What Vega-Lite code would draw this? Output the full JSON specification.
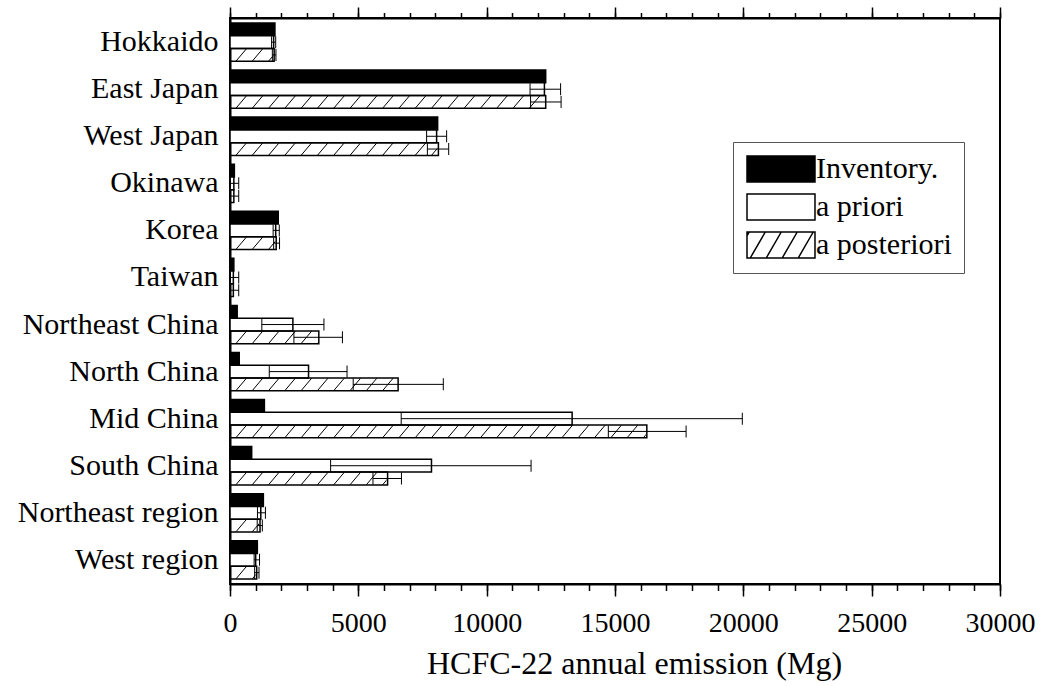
{
  "$schema": "https://vega.github.io/schema/vega-lite/v6.json",
  "width": 770,
  "height": 566,
  "autosize": "none",
  "padding": {"left": 230, "top": 18, "right": 40, "bottom": 102},
  "background": "white",
  "config": {
    "font": "Liberation Serif",
    "view": {"stroke": "black", "strokeWidth": 2},
    "axis": {"labelColor": "black", "titleColor": "black", "domainColor": "black", "tickColor": "black", "grid": false}
  },
  "data": {
    "values": [
      {"region": "Hokkaido", "series": "Inventory.", "value": 1750, "lo": null, "hi": null},
      {"region": "Hokkaido", "series": "a priori", "value": 1700, "lo": 1620, "hi": 1780},
      {"region": "Hokkaido", "series": "a posteriori", "value": 1720, "lo": 1650, "hi": 1790},
      {"region": "East Japan", "series": "Inventory.", "value": 12300, "lo": null, "hi": null},
      {"region": "East Japan", "series": "a priori", "value": 12250, "lo": 11690, "hi": 12880},
      {"region": "East Japan", "series": "a posteriori", "value": 12300, "lo": 11710, "hi": 12900},
      {"region": "West Japan", "series": "Inventory.", "value": 8090, "lo": null, "hi": null},
      {"region": "West Japan", "series": "a priori", "value": 8050, "lo": 7660, "hi": 8440},
      {"region": "West Japan", "series": "a posteriori", "value": 8120, "lo": 7690, "hi": 8520},
      {"region": "Okinawa", "series": "Inventory.", "value": 170, "lo": null, "hi": null},
      {"region": "Okinawa", "series": "a priori", "value": 150, "lo": 20, "hi": 340},
      {"region": "Okinawa", "series": "a posteriori", "value": 150, "lo": 20, "hi": 340},
      {"region": "Korea", "series": "Inventory.", "value": 1880, "lo": null, "hi": null},
      {"region": "Korea", "series": "a priori", "value": 1780, "lo": 1680, "hi": 1920},
      {"region": "Korea", "series": "a posteriori", "value": 1800, "lo": 1700, "hi": 1930},
      {"region": "Taiwan", "series": "Inventory.", "value": 150, "lo": null, "hi": null},
      {"region": "Taiwan", "series": "a priori", "value": 130, "lo": 20, "hi": 340},
      {"region": "Taiwan", "series": "a posteriori", "value": 130, "lo": 20, "hi": 340},
      {"region": "Northeast China", "series": "Inventory.", "value": 280, "lo": null, "hi": null},
      {"region": "Northeast China", "series": "a priori", "value": 2450, "lo": 1240, "hi": 3660},
      {"region": "Northeast China", "series": "a posteriori", "value": 3460, "lo": 2490, "hi": 4380},
      {"region": "North China", "series": "Inventory.", "value": 360, "lo": null, "hi": null},
      {"region": "North China", "series": "a priori", "value": 3060, "lo": 1530, "hi": 4560},
      {"region": "North China", "series": "a posteriori", "value": 6550, "lo": 4800, "hi": 8310},
      {"region": "Mid China", "series": "Inventory.", "value": 1340, "lo": null, "hi": null},
      {"region": "Mid China", "series": "a priori", "value": 13330, "lo": 6670, "hi": 19960},
      {"region": "Mid China", "series": "a posteriori", "value": 16240, "lo": 14740, "hi": 17770},
      {"region": "South China", "series": "Inventory.", "value": 845, "lo": null, "hi": null},
      {"region": "South China", "series": "a priori", "value": 7850, "lo": 3920, "hi": 11730},
      {"region": "South China", "series": "a posteriori", "value": 6140, "lo": 5570, "hi": 6680},
      {"region": "Northeast region", "series": "Inventory.", "value": 1300, "lo": null, "hi": null},
      {"region": "Northeast region", "series": "a priori", "value": 1200, "lo": 1070, "hi": 1380},
      {"region": "Northeast region", "series": "a posteriori", "value": 1170, "lo": 1060, "hi": 1260},
      {"region": "West region", "series": "Inventory.", "value": 1065, "lo": null, "hi": null},
      {"region": "West region", "series": "a priori", "value": 1000, "lo": 940, "hi": 1150},
      {"region": "West region", "series": "a posteriori", "value": 1040, "lo": 960, "hi": 1130}
    ]
  },
  "resolve": {"axis": {"x": "independent", "y": "independent"}},
  "layer": [
    {
      "transform": [{"filter": "datum.series === 'a posteriori'"}],
      "mark": {"type": "point", "shape": "M6,6.2L16.5,-6.2M22.3,6.2L32.8,-6.2M38.6,6.2L49.1,-6.2M54.9,6.2L65.4,-6.2M71.2,6.2L81.7,-6.2M87.5,6.2L98,-6.2M103.8,6.2L114.3,-6.2M120.1,6.2L130.6,-6.2M136.4,6.2L146.9,-6.2M152.7,6.2L163.2,-6.2M169,6.2L179.5,-6.2M185.3,6.2L195.8,-6.2M201.6,6.2L212.1,-6.2M217.9,6.2L228.4,-6.2M234.2,6.2L244.7,-6.2M250.5,6.2L261,-6.2M266.8,6.2L277.3,-6.2M283.1,6.2L293.6,-6.2M299.4,6.2L309.9,-6.2M315.7,6.2L326.2,-6.2M332,6.2L342.5,-6.2M348.3,6.2L358.8,-6.2M364.6,6.2L375.1,-6.2M380.9,6.2L391.4,-6.2M397.2,6.2L407.7,-6.2M413.5,6.2L424,-6.2M429.8,6.2L440.3,-6.2", "size": 4, "filled": false, "stroke": "black", "strokeWidth": 1, "opacity": 1},
      "encoding": {
        "x": {"datum": 0, "type": "quantitative", "scale": {"domain": [0, 30000], "nice": false, "zero": true},
          "axis": {"orient": "bottom", "values": [0, 5000, 10000, 15000, 20000, 25000, 30000], "format": "d", "tickSize": 12, "tickWidth": 1.5, "domainWidth": 2, "labelFontSize": 28, "labelBaseline": "alphabetic", "labelPadding": 35, "labelFlush": false, "labelOverlap": false, "title": "HCFC-22 annual emission (Mg)", "titleFontSize": 32, "titleFontWeight": "normal", "titleBaseline": "alphabetic", "titleAlign": "center", "titleX": 404, "titleY": 89}},
        "y": {"field": "region", "type": "nominal", "sort": null, "scale": {"domain": ["Hokkaido", "East Japan", "West Japan", "Okinawa", "Korea", "Taiwan", "Northeast China", "North China", "Mid China", "South China", "Northeast region", "West region"], "paddingInner": 0.186, "paddingOuter": 0.106},
          "axis": {"title": null, "ticks": false, "domainWidth": 2, "labelFontSize": 30, "labelPadding": 12, "labelLimit": 400}},
        "yOffset": {"field": "series", "type": "nominal", "scale": {"domain": ["Inventory.", "a priori", "a posteriori"], "paddingInner": 0, "paddingOuter": 0}}
      }
    },
    {
      "transform": [{"filter": "datum.series === 'a posteriori'"}],
      "mark": {"type": "bar", "fill": "white", "stroke": "white", "strokeWidth": 2},
      "encoding": {
        "x": {"field": "value", "type": "quantitative", "scale": {"domain": [0, 30000], "nice": false, "zero": true},
          "axis": {"orient": "bottom", "values": [0, 1000, 2000, 3000, 4000, 5000, 6000, 7000, 8000, 9000, 10000, 11000, 12000, 13000, 14000, 15000, 16000, 17000, 18000, 19000, 20000, 21000, 22000, 23000, 24000, 25000, 26000, 27000, 28000, 29000, 30000], "tickSize": 6.5, "tickWidth": 1.5, "labels": false, "domain": false, "title": null}},
        "x2": {"datum": 20000},
        "y": {"field": "region", "type": "nominal", "sort": null, "scale": {"domain": ["Hokkaido", "East Japan", "West Japan", "Okinawa", "Korea", "Taiwan", "Northeast China", "North China", "Mid China", "South China", "Northeast region", "West region"], "paddingInner": 0.186, "paddingOuter": 0.106}, "axis": null},
        "yOffset": {"field": "series", "type": "nominal", "scale": {"domain": ["Inventory.", "a priori", "a posteriori"], "paddingInner": 0, "paddingOuter": 0}}
      }
    },
    {
      "mark": {"type": "bar", "stroke": "black", "strokeWidth": 1.5},
      "encoding": {
        "x": {"field": "value", "type": "quantitative", "scale": {"domain": [0, 30000], "nice": false, "zero": true},
          "axis": {"orient": "top", "values": [0, 5000, 10000, 15000, 20000, 25000, 30000], "tickSize": 11, "tickWidth": 1.5, "domainWidth": 2, "labels": false, "title": null}},
        "y": {"field": "region", "type": "nominal", "sort": null, "scale": {"domain": ["Hokkaido", "East Japan", "West Japan", "Okinawa", "Korea", "Taiwan", "Northeast China", "North China", "Mid China", "South China", "Northeast region", "West region"], "paddingInner": 0.186, "paddingOuter": 0.106}, "axis": null},
        "yOffset": {"field": "series", "type": "nominal", "scale": {"domain": ["Inventory.", "a priori", "a posteriori"], "paddingInner": 0, "paddingOuter": 0}},
        "fill": {"field": "series", "type": "nominal", "scale": {"domain": ["Inventory.", "a priori", "a posteriori"], "range": ["black", "white", "transparent"]},
          "legend": {"title": null, "orient": "none", "legendX": 503, "legendY": 124, "padding": 12, "fillColor": "white", "strokeColor": "#555", "labelFontSize": 30, "labelFont": "Liberation Serif", "labelColor": "black", "symbolSize": 676, "symbolType": "M-1,-1H4.23V1H-1Z", "symbolStrokeColor": "black", "symbolStrokeWidth": 1.5, "symbolOpacity": 1, "labelOffset": 41, "rowPadding": 6,
            "encode": {"symbols": {"update": {"shape": {"signal": "datum.value === 'a posteriori' ? 'M-1,-1H4.23V1H-1Z M-1,-0.698L-0.826,-1 M-0.75,1L0.404,-1 M0.48,1L1.634,-1 M1.71,1L2.864,-1 M2.94,1L4.094,-1' : 'M-1,-1H4.23V1H-1Z'"}}}}}}
      }
    },
    {
      "transform": [{"filter": "datum.lo != null"}],
      "mark": {"type": "rule", "stroke": "black", "strokeWidth": 1},
      "encoding": {
        "x": {"field": "lo", "type": "quantitative", "scale": {"domain": [0, 30000], "nice": false, "zero": true},
          "axis": {"orient": "top", "values": [0, 1000, 2000, 3000, 4000, 5000, 6000, 7000, 8000, 9000, 10000, 11000, 12000, 13000, 14000, 15000, 16000, 17000, 18000, 19000, 20000, 21000, 22000, 23000, 24000, 25000, 26000, 27000, 28000, 29000, 30000], "tickSize": 5.5, "tickWidth": 1.5, "labels": false, "domain": false, "title": null}},
        "x2": {"field": "hi"},
        "y": {"field": "region", "type": "nominal", "sort": null, "scale": {"domain": ["Hokkaido", "East Japan", "West Japan", "Okinawa", "Korea", "Taiwan", "Northeast China", "North China", "Mid China", "South China", "Northeast region", "West region"], "paddingInner": 0.186, "paddingOuter": 0.106}, "axis": null},
        "yOffset": {"field": "series", "type": "nominal", "scale": {"domain": ["Inventory.", "a priori", "a posteriori"], "paddingInner": 0, "paddingOuter": 0}}
      }
    },
    {
      "transform": [{"filter": "datum.lo != null"}],
      "mark": {"type": "tick", "orient": "vertical", "size": 12, "thickness": 1, "color": "black", "opacity": 1},
      "encoding": {
        "x": {"field": "lo", "type": "quantitative", "scale": {"domain": [0, 30000], "nice": false, "zero": true}, "axis": null},
        "y": {"field": "region", "type": "nominal", "sort": null, "scale": {"domain": ["Hokkaido", "East Japan", "West Japan", "Okinawa", "Korea", "Taiwan", "Northeast China", "North China", "Mid China", "South China", "Northeast region", "West region"], "paddingInner": 0.186, "paddingOuter": 0.106}, "axis": null},
        "yOffset": {"field": "series", "type": "nominal", "scale": {"domain": ["Inventory.", "a priori", "a posteriori"], "paddingInner": 0, "paddingOuter": 0}}
      }
    },
    {
      "transform": [{"filter": "datum.lo != null"}],
      "mark": {"type": "tick", "orient": "vertical", "size": 12, "thickness": 1, "color": "black", "opacity": 1},
      "encoding": {
        "x": {"field": "hi", "type": "quantitative", "scale": {"domain": [0, 30000], "nice": false, "zero": true}, "axis": null},
        "y": {"field": "region", "type": "nominal", "sort": null, "scale": {"domain": ["Hokkaido", "East Japan", "West Japan", "Okinawa", "Korea", "Taiwan", "Northeast China", "North China", "Mid China", "South China", "Northeast region", "West region"], "paddingInner": 0.186, "paddingOuter": 0.106}, "axis": null},
        "yOffset": {"field": "series", "type": "nominal", "scale": {"domain": ["Inventory.", "a priori", "a posteriori"], "paddingInner": 0, "paddingOuter": 0}}
      }
    }
  ]
}
